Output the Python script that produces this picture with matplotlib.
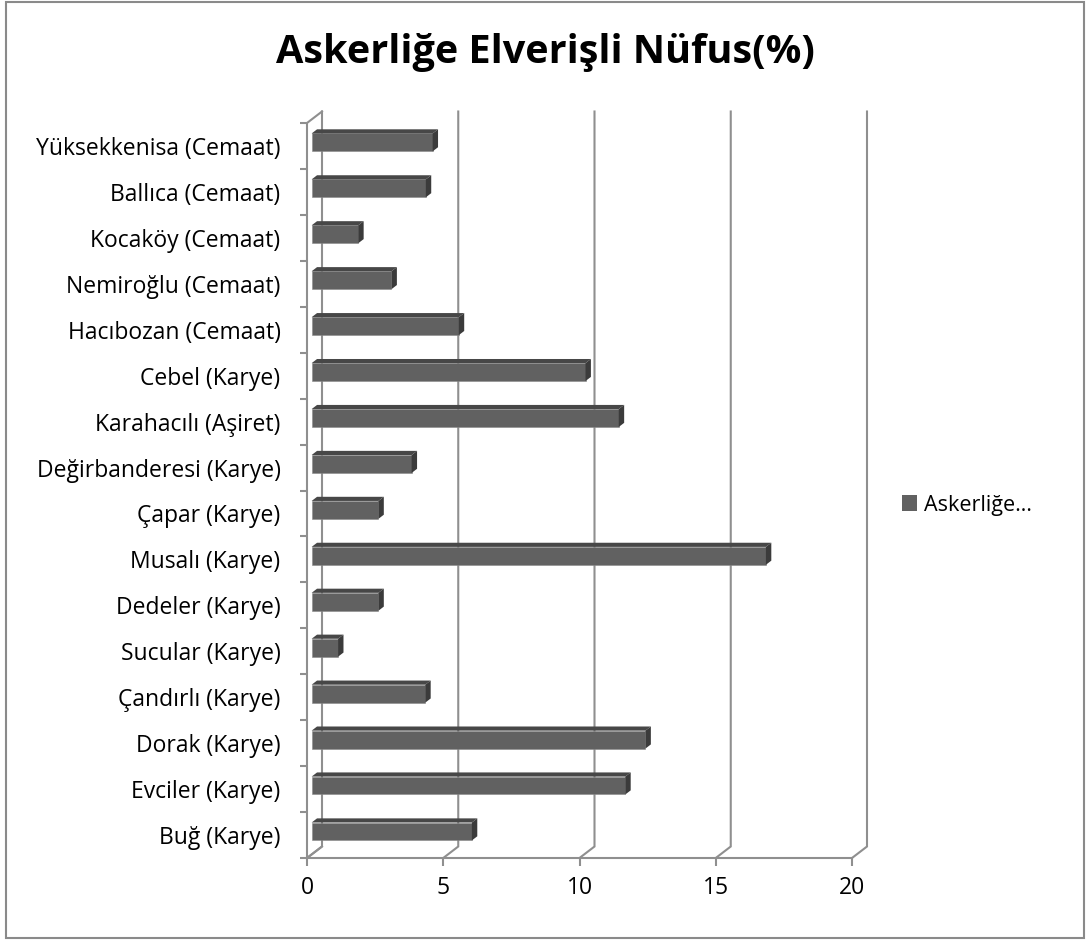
import matplotlib
matplotlib.use("Agg")
import matplotlib.pyplot as plt
from matplotlib.patches import Polygon, Patch, Rectangle

plt.rcParams['font.family'] = ['Open Sans', 'DejaVu Sans']

# Veriler (alttan üste)
koyler = ['Buğ (Karye)', 'Evciler (Karye)', 'Dorak (Karye)', 'Çandırlı (Karye)',
          'Sucular (Karye)', 'Dedeler (Karye)', 'Musalı (Karye)', 'Çapar (Karye)',
          'Değirbanderesi (Karye)', 'Karahacılı (Aşiret)', 'Cebel (Karye)',
          'Hacıbozan (Cemaat)', 'Nemiroğlu (Cemaat)', 'Kocaköy (Cemaat)',
          'Ballıca (Cemaat)', 'Yüksekkenisa (Cemaat)']
oranlar = [5.88, 11.51, 12.25, 4.17, 0.97, 2.45, 16.67, 2.45,
           3.67, 11.27, 10.05, 5.40, 2.93, 1.71, 4.19, 4.44]
x_ticks = [0, 5, 10, 15, 20]
seri_adi = 'Askerliğe…'
baslik = 'Askerliğe Elverişli Nüfus(%)'

W, H = 1088, 940
fig = plt.figure(figsize=(W / 100, H / 100), dpi=100)
# on duzlem: x 307..852 px, y 123..858 px
ax = fig.add_axes([307 / W, 1 - 858 / H, 545 / W, 735 / H])
ax.set_xlim(0, 20)
ax.set_ylim(-0.5, len(koyler) - 0.5)

# derinlik ofseti (tam derinlik, veri biriminde)
DX = 15 / 27.25
DY = 11.5 / 45.94
grid_renk = '#8f8f8f'
ytop, ybot = len(koyler) - 0.5, -0.5

# arka duvar cizgileri
for v in x_ticks:
    ax.plot([v + DX, v + DX, v], [ytop + DY, ybot + DY, ybot], color=grid_renk,
            lw=1.5, zorder=1, clip_on=False, solid_joinstyle='miter')
# sol duvar
ax.plot([DX, 0, 0, DX], [ytop + DY, ytop, ybot, ybot + DY], color=grid_renk,
        lw=1.5, zorder=1, clip_on=False)
# taban on cizgisi
ax.plot([0, 20], [ybot, ybot], color=grid_renk, lw=1.5, zorder=1, clip_on=False)

# 3B cubuklar
d1, d2 = 0.31, 0.67
h = 0.39
on_renk, ust_renk, yan_renk = '#616161', '#474747', '#3b3b3b'
for i, v in enumerate(oranlar):
    x0 = DX * d1
    y0 = i - h / 2 + DY * d1
    ax.barh(y0 + h / 2, v, left=x0, height=h, color=on_renk,
            edgecolor='#8a8a8a', linewidth=0.4, zorder=3)
    ust = [(x0, y0 + h), (x0 + v, y0 + h),
           (x0 + v + DX * (d2 - d1), y0 + h + DY * (d2 - d1)),
           (x0 + DX * (d2 - d1), y0 + h + DY * (d2 - d1))]
    yan = [(x0 + v, y0), (x0 + v, y0 + h),
           (x0 + v + DX * (d2 - d1), y0 + h + DY * (d2 - d1)),
           (x0 + v + DX * (d2 - d1), y0 + DY * (d2 - d1))]
    ax.add_patch(Polygon(ust, closed=True, facecolor=ust_renk, edgecolor='none',
                         zorder=3, clip_on=False))
    ax.add_patch(Polygon(yan, closed=True, facecolor=yan_renk, edgecolor='none',
                         zorder=3, clip_on=False))

for s in ax.spines.values():
    s.set_visible(False)

ax.set_xticks(x_ticks)
ax.set_xticklabels([str(t) for t in x_ticks], fontsize=16.5)
ax.tick_params(axis='x', length=6, width=1.5, color=grid_renk, pad=7)

ax.set_yticks(range(len(koyler)))
ax.set_yticklabels(koyler, fontsize=16.5)
ax.set_yticks([k - 0.5 for k in range(len(koyler) + 1)], minor=True)
ax.tick_params(axis='y', which='major', length=0, pad=19)
ax.tick_params(axis='y', which='minor', length=5, width=1.5, color=grid_renk)

fig.text(545 / W, 1 - 53 / H, baslik, ha='center', va='center',
         fontsize=28.5, fontweight='bold')

fig.legend(handles=[Patch(facecolor=on_renk, edgecolor='none')], labels=[seri_adi],
           loc='center left', bbox_to_anchor=(883 / W, 1 - 505 / H), frameon=False,
           fontsize=15.5, handlelength=0.7, handleheight=0.7, handletextpad=0.3)

fig.patches.append(Rectangle((6 / W, 2 / H), 1078 / W, 936 / H, transform=fig.transFigure,
                             fill=False, edgecolor='#8a8a8a', lw=1.5))

fig.savefig('out.png', dpi=100)
